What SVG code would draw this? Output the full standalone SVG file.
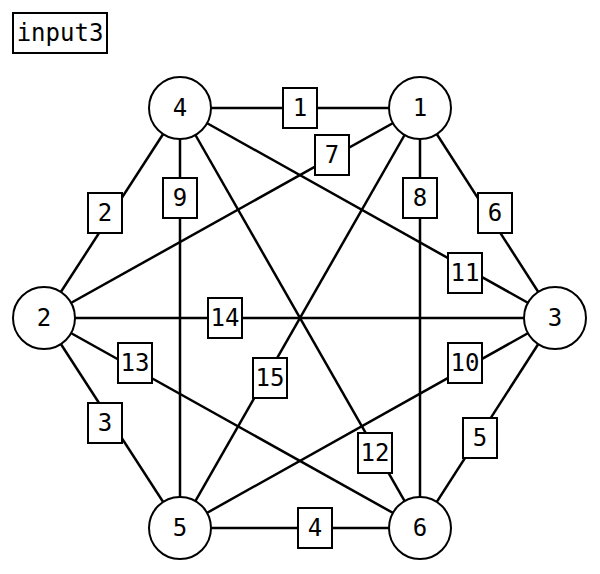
<svg xmlns="http://www.w3.org/2000/svg" width="600" height="574" viewBox="0 0 600 574">
<style>
.e{stroke:#000;stroke-width:2.5;fill:none}
.n circle{fill:#fff;stroke:#000;stroke-width:2}
.l rect{fill:#fff;stroke:#000;stroke-width:2}
text{font-family:"DejaVu Sans Mono","Liberation Mono",monospace;font-size:24px;fill:#000;text-anchor:middle;dominant-baseline:central}
</style>
<rect width="600" height="574" fill="#fff"/>
<g id="title"><rect x="13" y="13" width="94" height="40" fill="#fff" stroke="#000" stroke-width="2"/><text x="60" y="33">input3</text></g>
<g id="connectors">
<line class="e" x1="180" y1="108" x2="420" y2="108"/>
<line class="e" x1="180" y1="108" x2="44" y2="318"/>
<line class="e" x1="180" y1="108" x2="180" y2="528"/>
<line class="e" x1="180" y1="108" x2="420" y2="528"/>
<line class="e" x1="180" y1="108" x2="555" y2="318"/>
<line class="e" x1="420" y1="108" x2="44" y2="318"/>
<line class="e" x1="420" y1="108" x2="555" y2="318"/>
<line class="e" x1="420" y1="108" x2="420" y2="528"/>
<line class="e" x1="420" y1="108" x2="180" y2="528"/>
<line class="e" x1="44" y1="318" x2="555" y2="318"/>
<line class="e" x1="44" y1="318" x2="180" y2="528"/>
<line class="e" x1="44" y1="318" x2="420" y2="528"/>
<line class="e" x1="555" y1="318" x2="180" y2="528"/>
<line class="e" x1="555" y1="318" x2="420" y2="528"/>
<line class="e" x1="180" y1="528" x2="420" y2="528"/>
</g>
<g id="edge-labels" class="l">
<g id="l1"><rect x="283" y="88" width="34" height="40"/><text x="300" y="108">1</text></g>
<g id="l2"><rect x="88" y="193" width="34" height="40"/><text x="105" y="213">2</text></g>
<g id="l9"><rect x="163" y="178" width="34" height="40"/><text x="180" y="198">9</text></g>
<g id="l12"><rect x="358" y="433" width="34" height="40"/><text x="375" y="453">12</text></g>
<g id="l11"><rect x="448" y="253" width="34" height="40"/><text x="465" y="273">11</text></g>
<g id="l7"><rect x="315" y="135" width="34" height="40"/><text x="332" y="155">7</text></g>
<g id="l6"><rect x="478" y="193" width="34" height="40"/><text x="495" y="213">6</text></g>
<g id="l8"><rect x="403" y="178" width="34" height="40"/><text x="420" y="198">8</text></g>
<g id="l15"><rect x="253" y="358" width="34" height="40"/><text x="270" y="378">15</text></g>
<g id="l14"><rect x="208" y="298" width="34" height="40"/><text x="225" y="318">14</text></g>
<g id="l3"><rect x="88" y="403" width="34" height="40"/><text x="105" y="423">3</text></g>
<g id="l13"><rect x="118" y="343" width="34" height="40"/><text x="135" y="363">13</text></g>
<g id="l10"><rect x="448" y="343" width="34" height="40"/><text x="465" y="363">10</text></g>
<g id="l5"><rect x="463" y="418" width="34" height="40"/><text x="480" y="438">5</text></g>
<g id="l4"><rect x="298" y="508" width="34" height="40"/><text x="315" y="528">4</text></g>
</g>
<g id="node-4" class="n"><circle cx="180" cy="108" r="31"/><text x="180" y="108">4</text></g>
<g id="node-1" class="n"><circle cx="420" cy="108" r="31"/><text x="420" y="108">1</text></g>
<g id="node-2" class="n"><circle cx="44" cy="318" r="31"/><text x="44" y="318">2</text></g>
<g id="node-3" class="n"><circle cx="555" cy="318" r="31"/><text x="555" y="318">3</text></g>
<g id="node-5" class="n"><circle cx="180" cy="528" r="31"/><text x="180" y="528">5</text></g>
<g id="node-6" class="n"><circle cx="420" cy="528" r="31"/><text x="420" y="528">6</text></g>
</svg>
